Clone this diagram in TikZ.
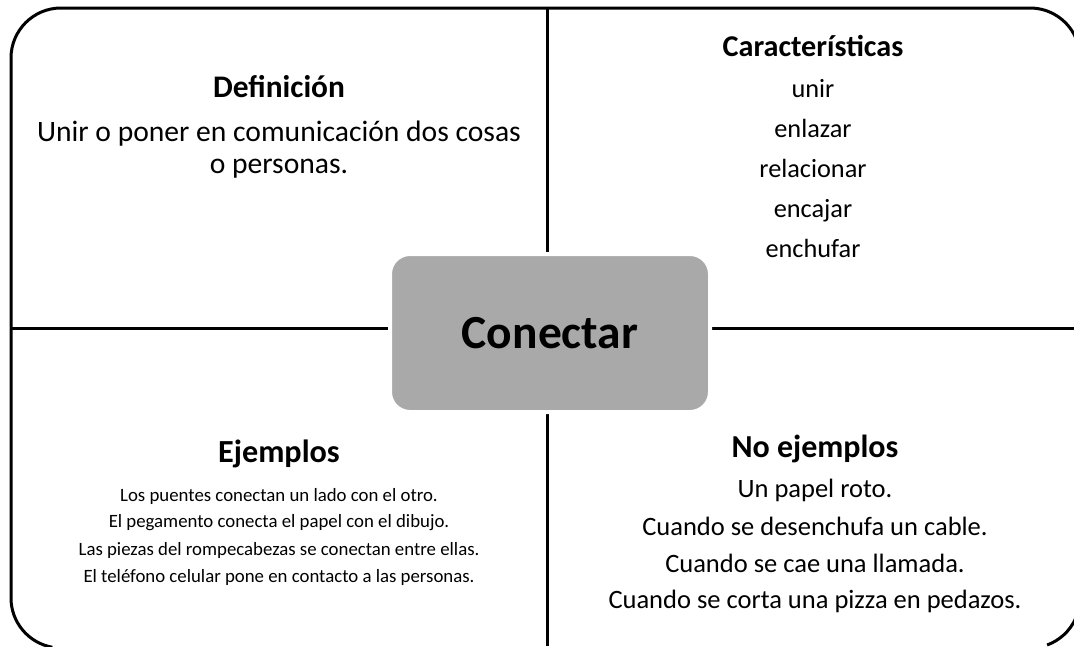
\documentclass[tikz,border=0pt]{standalone}
\usepackage{fontspec}
\setmainfont{Carlito}
\begin{document}
\begin{tikzpicture}[x=1pt,y=-1pt,
  frame/.style={line width=3pt,draw=black},
  divider/.style={line width=3pt,draw=black},
  centerbox/.style={fill=boxgray,draw=white,line width=4pt,rounded corners=20pt},
  head/.style={anchor=base,inner sep=0pt},
  txt/.style={anchor=base,inner sep=0pt,align=center}
]
\definecolor{boxgray}{RGB}{169,169,169}
\useasboundingbox (0,0) rectangle (1074,646);
\begin{scope}
\clip (0,0) rectangle (1074,646);
% outer frame (its right and bottom sides lie outside the picture)
\draw[frame] (1030,58) ++(-25:50) arc[start angle=-25, end angle=-90, radius=50]
  -- (61,8) arc[start angle=-90, end angle=-180, radius=50]
  -- (11,598) arc[start angle=180, end angle=100, radius=50];
\draw[frame] (1030,598) ++(70:50) arc[start angle=70, end angle=25, radius=50];
\coordinate (L) at (11,328);
\coordinate (R) at (1074,328);
\coordinate (T) at (547,8);
\coordinate (B) at (547,646);
\draw[divider] (L) -- (R);
\draw[divider] (T) -- (B);
\end{scope}
\draw[centerbox] (390,254) rectangle (710,412);
\node[anchor=base,inner sep=0pt,font=\bfseries\fontsize{47.5}{56}\selectfont] (conectar) at (550,348) {Conectar};
% Definicion
\node[head,font=\bfseries\fontsize{31.4}{36}\selectfont] (defh) at (279,97.5) {Definición};
\node[txt,font=\fontsize{29.6}{34}\selectfont] (def1) at (279,141.5) {Unir o poner en comunicación dos cosas};
\node[txt,font=\fontsize{29.6}{34}\selectfont] (def2) at (279,173) {o personas.};
% Caracteristicas
\node[head,font=\bfseries\fontsize{30.2}{36}\selectfont] (carh) at (813,56.5) {Características};
\node[txt,font=\fontsize{26.3}{30}\selectfont] (c1) at (813,97.5) {unir};
\node[txt,font=\fontsize{26.3}{30}\selectfont] (c2) at (813,137) {enlazar};
\node[txt,font=\fontsize{26.3}{30}\selectfont] (c3) at (813,177) {relacionar};
\node[txt,font=\fontsize{26.3}{30}\selectfont] (c4) at (813,217) {encajar};
\node[txt,font=\fontsize{26.3}{30}\selectfont] (c5) at (813,257.5) {enchufar};
% Ejemplos
\node[head,font=\bfseries\fontsize{32.2}{36}\selectfont] (ejh) at (279,462.5) {Ejemplos};
\node[txt,font=\fontsize{18.8}{22}\selectfont] (e1) at (279,501) {Los puentes conectan un lado con el otro.};
\node[txt,font=\fontsize{18.8}{22}\selectfont] (e2) at (279,527.5) {El pegamento conecta el papel con el dibujo.};
\node[txt,font=\fontsize{18.8}{22}\selectfont] (e3) at (279,555) {Las piezas del rompecabezas se conectan entre ellas.};
\node[txt,font=\fontsize{18.8}{22}\selectfont] (e4) at (279,582) {El teléfono celular pone en contacto a las personas.};
% No ejemplos
\node[head,font=\bfseries\fontsize{32}{36}\selectfont] (noh) at (815,457) {No ejemplos};
\node[txt,font=\fontsize{26.5}{30}\selectfont] (n1) at (815,497) {Un papel roto.};
\node[txt,font=\fontsize{26.5}{30}\selectfont] (n2) at (815,535) {Cuando se desenchufa un cable.};
\node[txt,font=\fontsize{26.5}{30}\selectfont] (n3) at (815,572) {Cuando se cae una llamada.};
\node[txt,font=\fontsize{26.5}{30}\selectfont] (n4) at (815,608) {Cuando se corta una pizza en pedazos.};
\end{tikzpicture}
\end{document}
